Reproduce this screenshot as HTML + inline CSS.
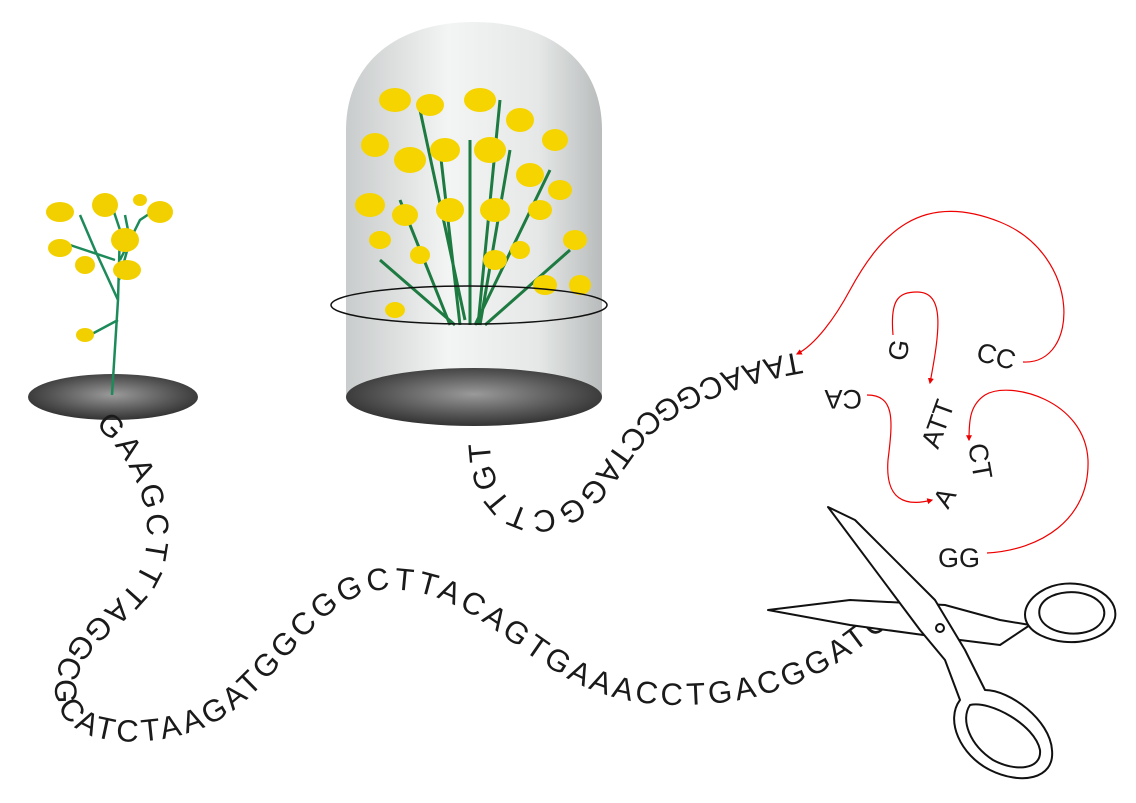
<!DOCTYPE html>
<html><head><meta charset="utf-8"><style>
html,body{margin:0;padding:0;background:#fff}
svg{display:block}
text{font-family:"Liberation Sans",Arial,sans-serif;fill:#1a1a1a}
</style></head><body>
<svg width="1136" height="803" viewBox="0 0 1136 803" xmlns="http://www.w3.org/2000/svg">
<defs>
<radialGradient id="disk" cx="50%" cy="45%" r="60%">
<stop offset="0" stop-color="#9a9a9a"/><stop offset="0.6" stop-color="#555"/><stop offset="1" stop-color="#2a2a2a"/>
</radialGradient>
<linearGradient id="jar" x1="0" x2="1" y1="0" y2="0">
<stop offset="0" stop-color="#c9cccc"/><stop offset="0.4" stop-color="#f3f4f4"/><stop offset="0.75" stop-color="#e6e8e8"/><stop offset="1" stop-color="#b9bcbc"/>
</linearGradient>
<marker id="ah" viewBox="0 0 10 10" refX="8" refY="5" markerWidth="5" markerHeight="5" orient="auto"><path d="M0,0L10,5L0,10z" fill="#e00"/></marker>
</defs>

<ellipse cx="113" cy="397" rx="85" ry="23" fill="url(#disk)"/>
<g stroke="#1d8a5a" stroke-width="2.5" fill="none">
<path d="M112,395 L118,300 L120,230 L110,200"/>
<path d="M118,300 L95,250 L80,215 M120,260 L140,220 L155,210 M118,320 L90,335 M119,280 L130,240 L125,215 M115,260 L70,245"/>
</g>
<g fill="#f2d000">
<ellipse cx="60" cy="212" rx="14" ry="10"/><ellipse cx="105" cy="205" rx="13" ry="12"/><ellipse cx="125" cy="240" rx="14" ry="12"/>
<ellipse cx="160" cy="212" rx="13" ry="11"/><ellipse cx="85" cy="265" rx="10" ry="9"/><ellipse cx="60" cy="248" rx="12" ry="9"/>
<ellipse cx="127" cy="270" rx="14" ry="10"/><ellipse cx="85" cy="335" rx="9" ry="7"/><ellipse cx="140" cy="200" rx="7" ry="6"/>
</g>

<path d="M346,397 L346,130 C346,60 400,22 474,22 C548,22 602,60 602,130 L602,397 Z" fill="url(#jar)"/>
<g stroke="#1d7a40" stroke-width="3" fill="none">
<path d="M460,325 L440,150 M470,325 L470,140 M450,325 L400,200 M480,325 L510,150 M475,325 L550,170 M455,325 L380,260 M485,325 L570,250 M465,320 L420,110 M478,325 L500,100"/>
</g>
<g fill="#f5d400">
<ellipse cx="395" cy="100" rx="16" ry="12"/><ellipse cx="430" cy="105" rx="14" ry="11"/><ellipse cx="480" cy="100" rx="16" ry="12"/>
<ellipse cx="520" cy="120" rx="14" ry="12"/><ellipse cx="555" cy="140" rx="13" ry="11"/><ellipse cx="375" cy="145" rx="14" ry="12"/>
<ellipse cx="410" cy="160" rx="16" ry="13"/><ellipse cx="445" cy="150" rx="15" ry="12"/><ellipse cx="490" cy="150" rx="16" ry="13"/>
<ellipse cx="530" cy="175" rx="14" ry="12"/><ellipse cx="560" cy="190" rx="12" ry="10"/><ellipse cx="370" cy="205" rx="15" ry="12"/>
<ellipse cx="405" cy="215" rx="13" ry="11"/><ellipse cx="450" cy="210" rx="14" ry="12"/><ellipse cx="495" cy="210" rx="15" ry="12"/>
<ellipse cx="540" cy="210" rx="12" ry="10"/><ellipse cx="575" cy="240" rx="12" ry="10"/><ellipse cx="380" cy="240" rx="11" ry="9"/>
<ellipse cx="420" cy="255" rx="10" ry="9"/><ellipse cx="495" cy="260" rx="12" ry="10"/><ellipse cx="545" cy="285" rx="12" ry="10"/>
<ellipse cx="580" cy="285" rx="11" ry="10"/><ellipse cx="395" cy="310" rx="10" ry="8"/><ellipse cx="520" cy="250" rx="10" ry="9"/>
</g>
<ellipse cx="474" cy="397" rx="128" ry="29" fill="url(#disk)"/>
<ellipse cx="469" cy="305" rx="138" ry="19" fill="none" stroke="#111" stroke-width="1.5"/>

<path id="p1" d="M95,425 C135,460 160,520 140,570 C120,610 55,630 55,690 C55,745 140,755 210,725 C280,690 310,600 380,590 C440,585 480,620 530,655 C580,690 620,705 680,705 C760,705 820,680 870,640 C890,625 905,612 920,600" fill="none"/>
<text font-size="31"><textPath id="t1" href="#p1" lengthAdjust="spacing">GAAGCTTTAGGCGCATCTAAGATGGCGGCTTACAGTGAAACCTGACGGATC</textPath></text>
<path id="p2" d="M800,352 C740,362 680,385 645,412 C605,445 590,505 545,510 C505,514 488,480 490,430" fill="none"/>
<text font-size="31"><textPath id="t2" href="#p2" lengthAdjust="spacing">TAAACGGCCTAGGCTTGT</textPath></text>

<g font-size="27">
<text transform="translate(906,362) rotate(-80)">G</text>
<text transform="translate(975,360) rotate(15)">CC</text>
<text transform="translate(862,390) rotate(180)">CA</text>
<text transform="translate(938,450) rotate(-70)">ATT</text>
<text transform="translate(948,510) rotate(-60)">A</text>
<text transform="translate(968,445) rotate(80)">CT</text>
<text x="938" y="567">GG</text>
</g>

<g fill="none" stroke="#e00" stroke-width="1.2" marker-end="url(#ah)">
<path d="M1023,362 C1080,365 1082,255 1000,222 C920,190 880,235 850,290 C835,318 815,345 797,354"/>
<path d="M893,335 C890,300 898,292 917,292 C945,292 940,330 930,383"/>
<path d="M867,395 C895,395 893,420 888,460 C885,500 905,507 932,500"/>
<path d="M987,553 C1040,550 1090,520 1088,460 C1085,400 1010,380 985,395 C970,405 969,420 969,440"/>
</g>

<g stroke="#111" stroke-width="2" fill="#fff" stroke-linejoin="round">
<path d="M768,610 L850,600 L945,605 L1000,620 L1030,625 L1000,645 L960,640 L850,625 Z"/>
<path d="M1040,592 C1070,572 1120,590 1115,618 C1110,640 1070,650 1040,635 C1020,625 1020,605 1040,592 Z"/>
<path d="M1048,598 C1070,585 1108,595 1104,616 C1100,635 1068,638 1050,628 C1036,620 1036,606 1048,598 Z"/>
<path d="M828,507 L855,520 L935,600 L965,650 L985,690 C1010,690 1050,720 1052,750 C1055,780 1020,785 990,770 C960,755 945,720 960,700 L945,660 L920,630 Z"/>
<path d="M970,705 C990,700 1035,725 1040,750 C1042,770 1015,772 993,760 C970,745 960,720 970,705 Z"/>
<circle cx="940" cy="628" r="4"/>
</g>
</svg>
<script>
[['p1','t1',0.97],['p2','t2',0.97]].forEach(function(a){var L=document.getElementById(a[0]).getTotalLength();document.getElementById(a[1]).setAttribute('textLength',L*a[2]);});
</script>
</body></html>
